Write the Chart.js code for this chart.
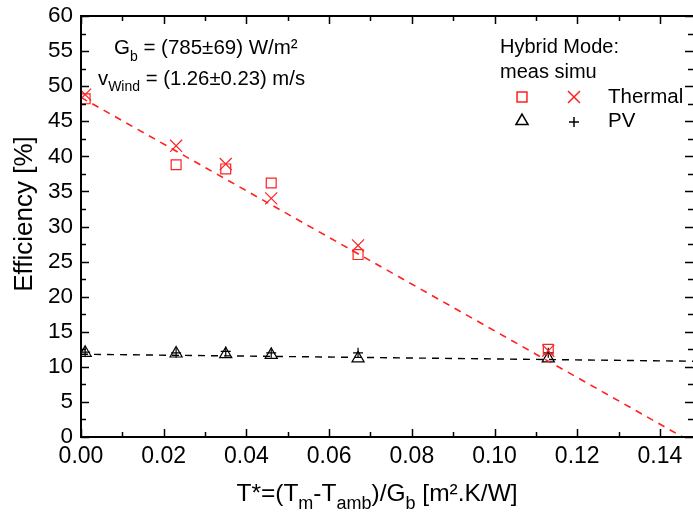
<!DOCTYPE html>
<html>
<head>
<meta charset="utf-8">
<script src="https://cdn.jsdelivr.net/npm/chart.js@4/dist/chart.umd.min.js"></script>
<style>
  body { margin: 0; background: #fff; }
  #wrap { width: 693px; height: 513px; }
</style>
</head>
<body>
<div id="wrap"><canvas id="effChart" width="693" height="513"></canvas></div>
<script>
// measured points (T*, efficiency)
const tStar = [0.001, 0.023, 0.035, 0.046, 0.067, 0.113];
const thermalMeas = [48.2, 38.8, 38.2, 36.2, 26.0, 12.5];
const thermalSimu = [48.8, 41.5, 38.9, 34.0, 27.3, 12.3];
const pvMeas = [12.0, 11.9, 11.8, 11.7, 11.2, 11.2];
const pvSimu = [12.1, 12.0, 12.2, 12.0, 12.0, 12.0];

// linear fits (end points)
const thermalFitX = [0, 0.1455];
const thermalFitY = [48.4, 0];
const pvFitX = [0, 0.148];
const pvFitY = [11.8, 10.8];

const xTicks = [0, 0.02, 0.04, 0.06, 0.08, 0.10, 0.12, 0.14];
const yTicks = [0, 5, 10, 15, 20, 25, 30, 35, 40, 45, 50, 55, 60];

const FONT = "'Liberation Sans', Arial, sans-serif";
const RED = "#ff2020";

const pts = (xs, ys) => xs.map((x, i) => ({ x, y: ys[i] }));

// text with subscripts
function richText(ctx, parts, x, y, size, subScale) {
  let cx = x;
  parts.forEach((p) => {
    const s = p.sub ? Math.round(size * (subScale || 0.68)) : size;
    ctx.font = s + "px " + FONT;
    ctx.fillText(p.t, cx, p.sub ? y + size * 0.32 : y);
    cx += ctx.measureText(p.t).width;
  });
  return cx - x;
}
function richWidth(ctx, parts, size, subScale) {
  let w = 0;
  parts.forEach((p) => {
    const s = p.sub ? Math.round(size * (subScale || 0.68)) : size;
    ctx.font = s + "px " + FONT;
    w += ctx.measureText(p.t).width;
  });
  return w;
}

const decorations = {
  id: "decorations",
  afterDraw(chart) {
    const { ctx, chartArea: a, scales } = chart;
    const xs = scales.x, ys = scales.y;
    ctx.save();
    ctx.strokeStyle = "#000";
    ctx.fillStyle = "#000";

    // frame
    ctx.lineWidth = 2;
    ctx.beginPath();
    ctx.moveTo(a.left, a.top);
    ctx.lineTo(a.right + 1, a.top);
    ctx.lineTo(a.right + 1, a.bottom);
    ctx.lineTo(a.left, a.bottom);
    ctx.closePath();
    ctx.stroke();

    // inward ticks, mirrored
    ctx.lineWidth = 1.5;
    ctx.beginPath();
    for (let v = 0; v <= 0.148 + 1e-9; v += 0.01) {
      const major = Math.abs(v / 0.02 - Math.round(v / 0.02)) < 1e-6;
      const len = major ? 8 : 5;
      const px = Math.round(xs.getPixelForValue(v)) + 0.5;
      ctx.moveTo(px, a.bottom); ctx.lineTo(px, a.bottom - len);
      ctx.moveTo(px, a.top); ctx.lineTo(px, a.top + len);
    }
    for (let v = 0; v <= 60; v += 2.5) {
      const major = v % 5 === 0;
      const len = major ? 8 : 5;
      const py = Math.round(ys.getPixelForValue(v)) + 0.5;
      ctx.moveTo(a.left, py); ctx.lineTo(a.left + len, py);
      ctx.moveTo(a.right, py); ctx.lineTo(a.right - len, py);
    }
    ctx.stroke();

    // axis titles
    ctx.textBaseline = "alphabetic";
    ctx.textAlign = "left";
    const xt = [
      { t: "T*=(T" }, { t: "m", sub: true }, { t: "-T" }, { t: "amb", sub: true },
      { t: ")/G" }, { t: "b", sub: true }, { t: " [m².K/W]" },
    ];
    const xw = richWidth(ctx, xt, 24.5, 0.72);
    richText(ctx, xt, 377 - xw / 2, 501, 24.5, 0.72);

    ctx.save();
    ctx.translate(32, 214);
    ctx.rotate(-Math.PI / 2);
    ctx.textAlign = "center";
    ctx.font = "26px " + FONT;
    ctx.fillText("Efficiency [%]", 0, 0);
    ctx.restore();

    // conditions
    ctx.textAlign = "left";
    richText(ctx, [{ t: "G" }, { t: "b", sub: true }, { t: " = (785±69) W/m²" }], 114, 54, 20.5);
    richText(ctx, [{ t: "v" }, { t: "Wind", sub: true }, { t: " = (1.26±0.23) m/s" }], 98, 85, 20.3);

    // legend
    ctx.font = "20px " + FONT;
    ctx.fillText("Hybrid Mode:", 500, 53);
    ctx.fillText("meas simu", 500, 78);
    ctx.font = "20.5px " + FONT;
    ctx.fillText("Thermal", 608, 103);
    ctx.fillText("PV", 608, 127);
    const ds = chart.data.datasets;
    const mark = (d, x, y) => {
      ctx.strokeStyle = d.borderColor;
      ctx.fillStyle = "rgba(0,0,0,0)";
      Chart.helpers.drawPoint(ctx, {
        pointStyle: d.pointStyle, radius: d.pointRadius,
        rotation: 0, borderWidth: d.pointBorderWidth,
      }, x, y);
    };
    mark(ds[2], 522, 97);
    mark(ds[3], 574, 97);
    mark(ds[4], 522, 121);
    mark(ds[5], 574, 122);
    ctx.restore();
  },
};

new Chart(document.getElementById("effChart"), {
  type: "scatter",
  data: {
    datasets: [
      {
        label: "Thermal fit", data: pts(thermalFitX, thermalFitY), showLine: true,
        borderColor: RED, borderWidth: 1.6, borderDash: [7, 6], pointRadius: 0,
      },
      {
        label: "PV fit", data: pts(pvFitX, pvFitY), showLine: true,
        borderColor: "#000", borderWidth: 1.4, borderDash: [7, 6], pointRadius: 0,
      },
      {
        label: "Thermal meas", data: pts(tStar, thermalMeas), pointStyle: "rect",
        pointRadius: 7, pointBorderWidth: 1.2, borderColor: RED, backgroundColor: "rgba(0,0,0,0)",
      },
      {
        label: "Thermal simu", data: pts(tStar, thermalSimu), pointStyle: "crossRot",
        pointRadius: 8.5, pointBorderWidth: 1.2, borderColor: RED, backgroundColor: "rgba(0,0,0,0)",
      },
      {
        label: "PV meas", data: pts(tStar, pvMeas), pointStyle: "triangle",
        pointRadius: 7, pointBorderWidth: 1.2, borderColor: "#000", backgroundColor: "rgba(0,0,0,0)",
      },
      {
        label: "PV simu", data: pts(tStar, pvSimu), pointStyle: "cross",
        pointRadius: 5, pointBorderWidth: 1.2, borderColor: "#000", backgroundColor: "rgba(0,0,0,0)",
      },
    ],
  },
  options: {
    responsive: false,
    animation: false,
    layout: { autoPadding: false, padding: { left: 0, top: 16, right: 0, bottom: 0 } },
    plugins: { legend: { display: false }, tooltip: { enabled: false } },
    scales: {
      x: {
        type: "linear", min: 0, max: 0.148,
        afterFit: (s) => { s.height = 76; s.paddingLeft = 0; s.paddingRight = 0; },
        afterBuildTicks: (s) => { s.ticks = xTicks.map((v) => ({ value: v })); },
        grid: { display: false, drawTicks: false },
        border: { display: false },
        ticks: {
          padding: 6, color: "#000", font: { family: FONT, size: 23 },
          callback: (v) => Number(v).toFixed(2), maxRotation: 0,
        },
      },
      y: {
        min: 0, max: 60,
        afterFit: (s) => { s.width = 81; s.paddingTop = 0; s.paddingBottom = 0; },
        afterBuildTicks: (s) => { s.ticks = yTicks.map((v) => ({ value: v })); },
        grid: { display: false, drawTicks: false },
        border: { display: false },
        ticks: { padding: 8, color: "#000", font: { family: FONT, size: 22.5 } },
      },
    },
  },
  plugins: [decorations],
});
</script>
</body>
</html>
